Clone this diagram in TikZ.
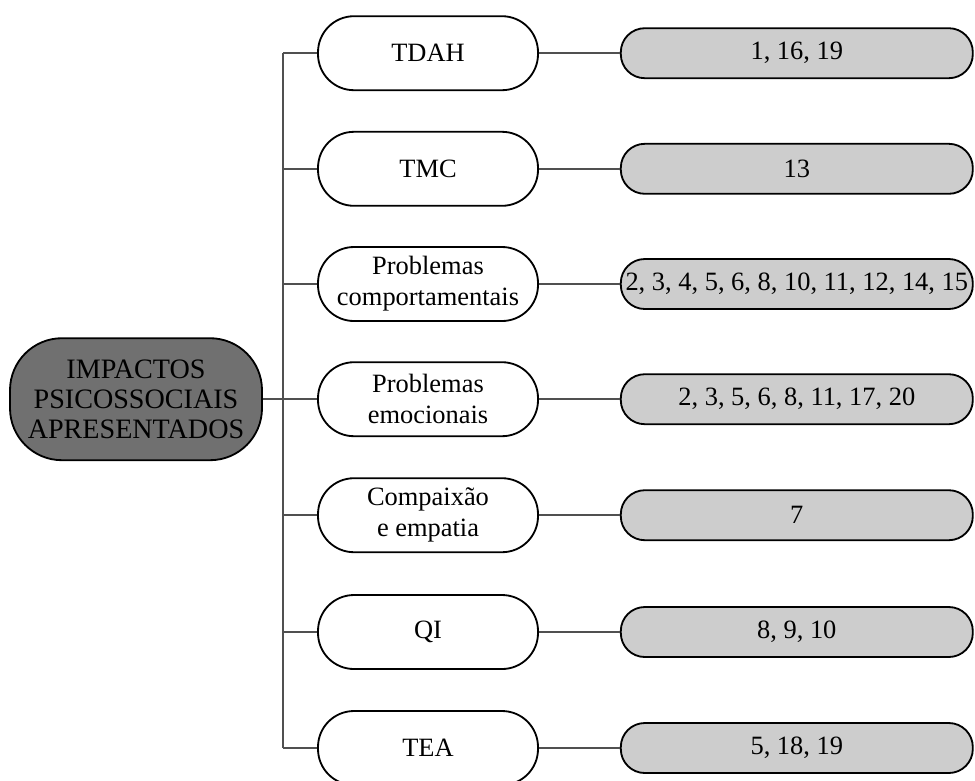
\documentclass[tikz,border=0pt]{standalone}
\usepackage{fontspec}
\setmainfont{Liberation Serif}
\definecolor{rootgray}{RGB}{112,112,112}
\definecolor{boxgray}{RGB}{205,205,205}
\definecolor{linegray}{RGB}{80,80,80}
\begin{document}
\begin{tikzpicture}[font=\fontsize{18.8}{22}\selectfont]

      \useasboundingbox (0,0) rectangle (24.375,-19.5);

      \begin{scope}[every node/.style={draw,line width=1.3pt,align=center,inner sep=0pt}]
        \node[fill=rootgray,minimum width=6.3cm,minimum height=3.05cm,rounded corners=1.3cm,font=\fontsize{20}{21.5}\selectfont] (root) at (3.4,-9.98) {IMPACTOS\\PSICOSSOCIAIS\\APRESENTADOS};
      \end{scope}

      \begin{scope}[every node/.style={draw,line width=1.3pt,align=center,inner sep=0pt,fill=white,minimum width=5.5cm,minimum height=1.85cm,rounded corners=0.9cm}]
        \node (tdah)  at (10.7,-1.33)  {TDAH};
        \node (tmc)   at (10.7,-4.22)  {TMC};
        \node (comp)  at (10.7,-7.1)   {Problemas\\comportamentais};
        \node (emoc)  at (10.7,-9.98)  {Problemas\\emocionais};
        \node (empat) at (10.7,-12.88) {Compaixão\\e empatia};
        \node (qi)    at (10.7,-15.8)  {QI};
        \node (tea)   at (10.7,-18.7)  {TEA};
      \end{scope}

      \begin{scope}[every node/.style={draw,line width=1.3pt,align=center,inner sep=0pt,fill=boxgray,minimum width=8.8cm,minimum height=1.25cm,rounded corners=0.6cm}]
        \node (r1) at (19.92,-1.33)  {1, 16, 19};
        \node (r2) at (19.92,-4.22)  {13};
        \node (r3) at (19.92,-7.1)   {2, 3, 4, 5, 6, 8, 10, 11, 12, 14, 15};
        \node (r4) at (19.92,-9.98)  {2, 3, 5, 6, 8, 11, 17, 20};
        \node (r5) at (19.92,-12.88) {7};
        \node (r6) at (19.92,-15.8)  {8, 9, 10};
        \node (r7) at (19.92,-18.7)  {5, 18, 19};
      \end{scope}

      % trunk
      \coordinate (t1) at (7.075,-1.33);
      \coordinate (t4) at (7.075,-9.98);
      \coordinate (t7) at (7.075,-18.7);

      \begin{scope}[every path/.style={draw,line width=1.1pt,color=linegray}]
        \path (t1) -- (t7);
        \path (root) -- (t4);
        \path (tdah.west)  -- (tdah.west -| t1);
        \path (tmc.west)   -- (tmc.west -| t1);
        \path (comp.west)  -- (comp.west -| t1);
        \path (emoc.west)  -- (t4);
        \path (empat.west) -- (empat.west -| t1);
        \path (qi.west)    -- (qi.west -| t1);
        \path (tea.west)   -- (t7);
      \end{scope}

      \begin{scope}[every edge/.style={draw,line width=1.1pt,color=linegray}]
        \path (tdah)  edge (r1);
        \path (tmc)   edge (r2);
        \path (comp)  edge (r3);
        \path (emoc)  edge (r4);
        \path (empat) edge (r5);
        \path (qi)    edge (r6);
        \path (tea)   edge (r7);
      \end{scope}

    \end{tikzpicture}
\end{document}
